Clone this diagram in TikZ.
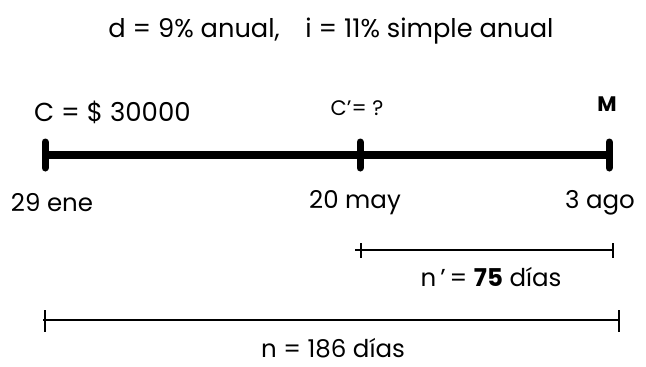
\documentclass[tikz,border=0pt]{standalone}
\usepackage{fontspec}
\setmainfont{Poppins}
\usetikzlibrary{positioning,calc}
\tikzset{
  axis/.style     = {line width=7.5pt},
  tickmark/.style = {line width=7pt, line cap=round},
  span/.style     = {line width=1.2pt},
  lbl/.style      = {font=\fontsize{24.5}{29}\selectfont, inner sep=1pt},
  biglbl/.style   = {font=\fontsize{26}{31}\selectfont, inner sep=1pt},
  smalllbl/.style = {font=\fontsize{21}{25}\selectfont, inner sep=1pt},
}

\begin{document}
\begin{tikzpicture}[x=1pt,y=-1pt]
  \useasboundingbox (0,0) rectangle (646,367);
  % time line
  \coordinate (ene) at (45,155);
  \coordinate (may) at (360,155);
  \coordinate (ago) at (609,155);
  \draw[axis] (ene) -- (ago);
  \foreach \p in {ene,may,ago} {
    \draw[tickmark] ($(\p)+(0,-13)$) -- ($(\p)+(0,13)$);
  }
  \node[lbl, font=\fontsize{25.7}{30}\selectfont] (rates) at (331,31) {d = 9\% anual,\quad i = 11\% simple anual};
  \node[biglbl, anchor=west] (cap) at (33,112) {C = \$ 30000};
  \node[smalllbl] (capx) at (357,108) {C'= ?};
  \node[smalllbl] (mon) at (607,104) {\textbf{M}};
  \foreach \p/\x/\t in {ene/52/29 ene, may/355/20 may, ago/600/3 ago} {
    \node[lbl] (d\p) at (\x,203) {\t};
  }
  % day spans
  \coordinate (s1) at (355,250);
  \coordinate (s2) at (613,250);
  \draw[span] (s1) -- (s2);
  \foreach \x in {361,613} \draw[span] (\x,243) -- (\x,258);
  \node[lbl] (nprime) at (491,277) {n\,'\,= \textbf{75} días};
  \coordinate (l1) at (43,320);
  \coordinate (l2) at (619,320);
  \draw[span] (l1) -- (l2);
  \foreach \x in {45,619} \draw[span] (\x,310) -- (\x,332);
  \node[lbl, inner sep=0pt] (ntot) at (333,348) {n = 186 días};
\end{tikzpicture}
\end{document}
